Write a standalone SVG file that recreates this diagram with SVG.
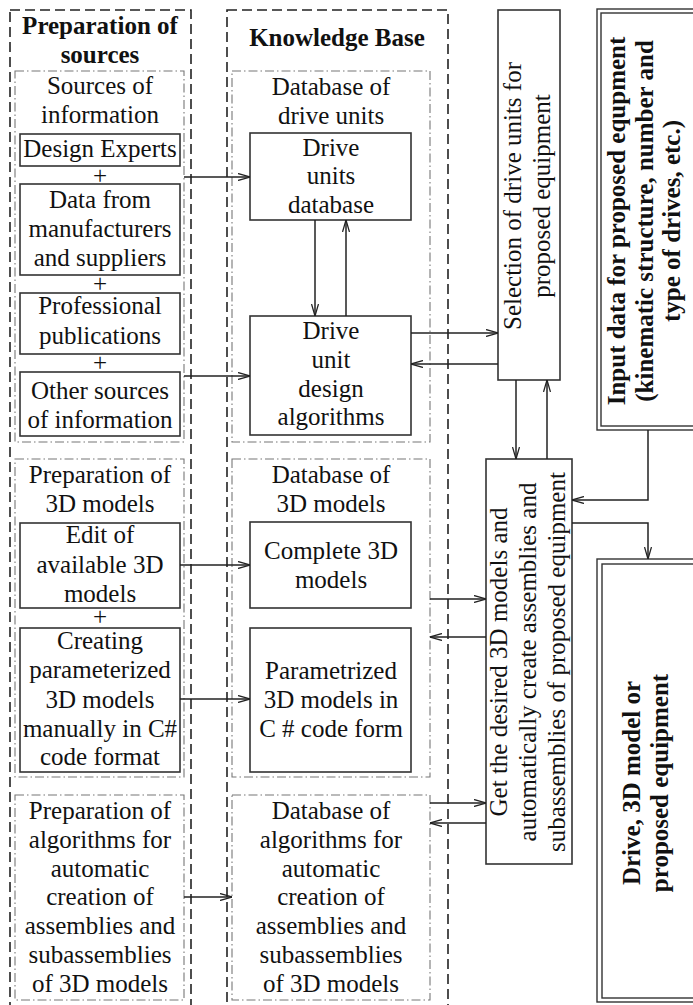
<svg xmlns="http://www.w3.org/2000/svg" width="693" height="1005" viewBox="0 0 693 1005">
<style>
text{font-family:'Liberation Serif','Tinos','Times New Roman','DejaVu Serif',serif;font-size:25px;fill:#111;text-anchor:middle}
.b{font-weight:bold}
.col{fill:none;stroke:#222;stroke-width:1.6;stroke-dasharray:10 5}
.grp{fill:none;stroke:#777;stroke-width:1.1;stroke-dasharray:9 3 1.5 3}
.box{fill:#fff;stroke:#333;stroke-width:1.6}
.dbl{fill:#fff;stroke:#333;stroke-width:1.4}
.con{fill:none;stroke:#222;stroke-width:1.5}
</style>
<defs>
<marker id="ah" viewBox="0 0 12 8" refX="12" refY="4" markerWidth="12" markerHeight="8" markerUnits="userSpaceOnUse" orient="auto">
<path d="M0,0.5 L12,4 L0,7.5" fill="none" stroke="#222" stroke-width="1.3"/>
</marker>
</defs>
<rect width="693" height="1005" fill="#fff"/>

<g id="col-sources">
<rect class="col" x="10" y="10" width="181" height="1010"/>
<text class="b" x="100" y="34">Preparation of</text>
<text class="b" x="100" y="63">sources</text>
</g>
<g id="col-kb">
<rect class="col" x="227" y="10" width="221" height="1010"/>
<text class="b" x="337" y="46">Knowledge Base</text>
</g>

<g id="grp-sources-info">
<rect class="grp" x="15" y="71" width="169" height="371"/>
<text x="100" y="94">Sources of</text>
<text x="100" y="123">information</text>
</g>
<g id="n-design-experts">
<rect class="box" x="20" y="134" width="160" height="32"/>
<text x="100" y="157">Design Experts</text>
</g>
<text x="100" y="184">+</text>
<g id="n-manufacturers">
<rect class="box" x="20" y="184" width="160" height="91"/>
<text x="100" y="208">Data from</text>
<text x="100" y="237">manufacturers</text>
<text x="100" y="266">and suppliers</text>
</g>
<text x="100" y="292">+</text>
<g id="n-publications">
<rect class="box" x="20" y="293" width="160" height="61"/>
<text x="100" y="314">Professional</text>
<text x="100" y="344">publications</text>
</g>
<text x="100" y="371">+</text>
<g id="n-other">
<rect class="box" x="20" y="372" width="160" height="64"/>
<text x="100" y="399">Other sources</text>
<text x="100" y="428">of information</text>
</g>

<g id="grp-prep-3d">
<rect class="grp" x="15" y="459" width="169" height="318"/>
<text x="100" y="483">Preparation of</text>
<text x="100" y="512">3D models</text>
</g>
<g id="n-edit">
<rect class="box" x="20" y="523" width="160" height="85"/>
<text x="100" y="543">Edit of</text>
<text x="100" y="573">available 3D</text>
<text x="100" y="602">models</text>
</g>
<text x="100" y="625">+</text>
<g id="n-creating">
<rect class="box" x="20" y="628" width="160" height="144"/>
<text x="100" y="649">Creating</text>
<text x="100" y="678">parameterized</text>
<text x="100" y="708">3D models</text>
<text x="100" y="737">manually in C#</text>
<text x="100" y="765">code format</text>
</g>

<g id="grp-prep-alg">
<rect class="grp" x="15" y="795" width="169" height="205"/>
<text x="100" y="819">Preparation of</text>
<text x="100" y="848">algorithms for</text>
<text x="100" y="877">automatic</text>
<text x="100" y="905">creation of</text>
<text x="100" y="934">assemblies and</text>
<text x="100" y="963">subassemblies</text>
<text x="100" y="992">of 3D models</text>
</g>

<g id="grp-db-drive">
<rect class="grp" x="232" y="71" width="198" height="371"/>
<text x="331" y="95">Database of</text>
<text x="331" y="124">drive units</text>
</g>
<g id="n-drive-db">
<rect class="box" x="250" y="133" width="161" height="87"/>
<text x="331" y="156">Drive</text>
<text x="331" y="184">units</text>
<text x="331" y="213">database</text>
</g>
<g id="n-drive-alg">
<rect class="box" x="250" y="316" width="161" height="119"/>
<text x="331" y="339">Drive</text>
<text x="331" y="368">unit</text>
<text x="331" y="397">design</text>
<text x="331" y="425">algorithms</text>
</g>

<g id="grp-db-3d">
<rect class="grp" x="232" y="459" width="198" height="318"/>
<text x="331" y="483">Database of</text>
<text x="331" y="512">3D models</text>
</g>
<g id="n-complete">
<rect class="box" x="250" y="522" width="161" height="86"/>
<text x="331" y="559">Complete 3D</text>
<text x="331" y="588">models</text>
</g>
<g id="n-param">
<rect class="box" x="250" y="628" width="161" height="144"/>
<text x="331" y="679">Parametrized</text>
<text x="331" y="708">3D models in</text>
<text x="331" y="737">C # code form</text>
</g>

<g id="grp-db-alg">
<rect class="grp" x="232" y="795" width="198" height="205"/>
<text x="331" y="819">Database of</text>
<text x="331" y="848">algorithms for</text>
<text x="331" y="877">automatic</text>
<text x="331" y="905">creation of</text>
<text x="331" y="934">assemblies and</text>
<text x="331" y="963">subassemblies</text>
<text x="331" y="992">of 3D models</text>
</g>

<g id="n-selection">
<rect class="box" x="498" y="10" width="62" height="370"/>
<g transform="translate(529,196) rotate(-90)">
<text x="0" y="-8">Selection of drive units for</text>
<text x="0" y="21">proposed equipment</text>
</g>
</g>

<g id="n-input">
<rect class="dbl" x="597" y="9" width="110" height="421"/>
<rect class="dbl" x="601" y="13" width="110" height="413"/>
<g transform="translate(653,221) rotate(-90)">
<text class="b" x="0" y="-28">Input data for proposed equpment</text>
<text class="b" x="0" y="0">(kinematic structure, number and</text>
<text class="b" x="0" y="27">type of drives, etc.)</text>
</g>
</g>

<g id="n-get">
<rect class="box" x="486" y="459" width="86" height="405"/>
<g transform="translate(536,662) rotate(-90)">
<text x="0" y="-29">Get the desired 3D models and</text>
<text x="0" y="0">automatically create assemblies and</text>
<text x="0" y="29">subassemblies of proposed equipment</text>
</g>
</g>

<g id="n-output">
<rect class="dbl" x="597" y="559" width="110" height="443"/>
<rect class="dbl" x="602" y="564" width="110" height="434"/>
<g transform="translate(654,783) rotate(-90)">
<text class="b" x="0" y="-14">Drive, 3D model or</text>
<text class="b" x="0" y="14">proposed equipment</text>
</g>
</g>

<g id="connectors">
<path class="con" d="M184,177 H250" marker-end="url(#ah)"/>
<path class="con" d="M184,376 H250" marker-end="url(#ah)"/>
<path class="con" d="M315,220 V316" marker-end="url(#ah)"/>
<path class="con" d="M346,316 V220" marker-end="url(#ah)"/>
<path class="con" d="M411,333 H498" marker-end="url(#ah)"/>
<path class="con" d="M498,364 H411" marker-end="url(#ah)"/>
<path class="con" d="M516,380 V459" marker-end="url(#ah)"/>
<path class="con" d="M547,459 V380" marker-end="url(#ah)"/>
<path class="con" d="M648,430 V500 H572" marker-end="url(#ah)"/>
<path class="con" d="M572,523 H648 V559" marker-end="url(#ah)"/>
<path class="con" d="M180,565 H250" marker-end="url(#ah)"/>
<path class="con" d="M180,699 H250" marker-end="url(#ah)"/>
<path class="con" d="M430,599 H486" marker-end="url(#ah)"/>
<path class="con" d="M486,637 H430" marker-end="url(#ah)"/>
<path class="con" d="M430,803 H486" marker-end="url(#ah)"/>
<path class="con" d="M486,823 H430" marker-end="url(#ah)"/>
<path class="con" d="M184,897 H232" marker-end="url(#ah)"/>
</g>
</svg>
